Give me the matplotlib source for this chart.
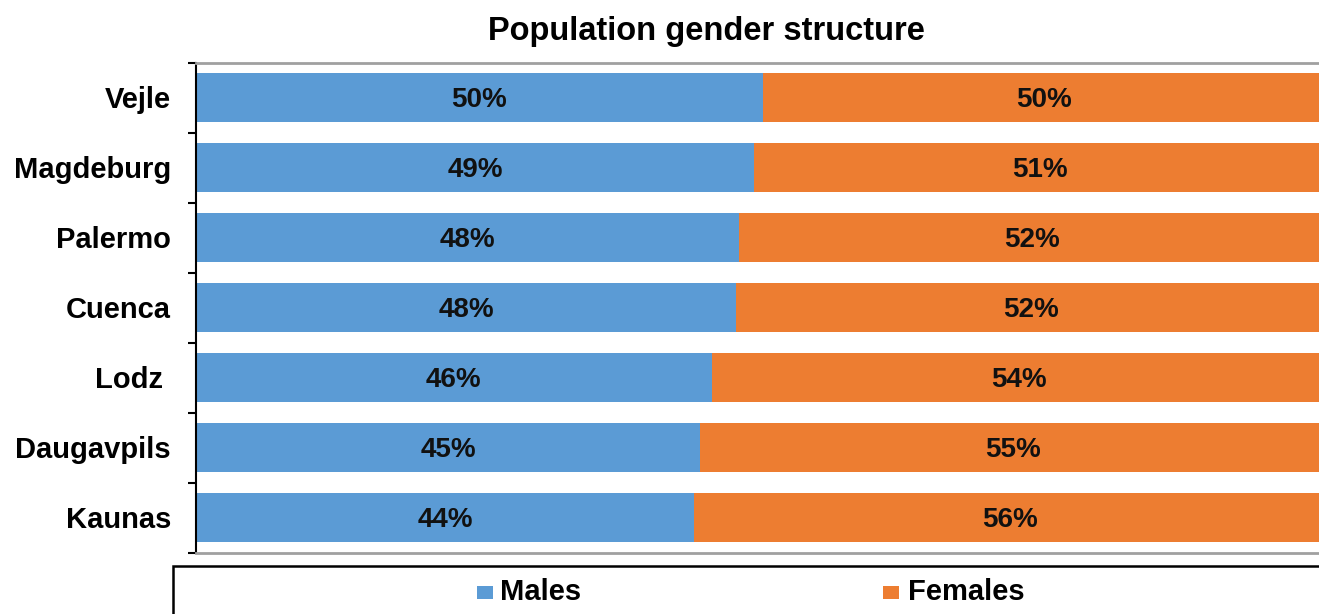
import matplotlib
matplotlib.use("Agg")
import matplotlib.pyplot as plt
from matplotlib.patches import Rectangle
import numpy as np

cities = ["Vejle", "Magdeburg", "Palermo", "Cuenca", "Lodz ", "Daugavpils", "Kaunas"]
males = [50.16, 49.40, 48.01, 47.80, 45.62, 44.61, 44.05]
females = [49.84, 50.60, 51.99, 52.20, 54.38, 55.39, 55.95]
series_names = ["Males", "Females"]
colors = ["#5B9BD5", "#ED7D31"]

plt.rcParams['font.family'] = ['Liberation Sans', 'DejaVu Sans']
plt.rcParams['font.weight'] = 'bold'

W, H = 1319, 614
fig = plt.figure(figsize=(W / 100, H / 100), dpi=100)
ax_left, ax_right = 196, 1326
ax_top, ax_bot = 62.5, 552.5
ax = fig.add_axes([ax_left / W, 1 - ax_bot / H, (ax_right - ax_left) / W, (ax_bot - ax_top) / H])

y = np.arange(len(cities))
m = np.array(males)
f = np.array(females)
ax.barh(y, m, height=0.714, color=colors[0], label=series_names[0])
ax.barh(y, f, left=m, height=0.714, color=colors[1], label=series_names[1])

base_off = 0.14
for i in range(len(cities)):
    ax.text(m[i] / 2, y[i] + base_off, f"{round(m[i]):.0f}%", ha='center', va='baseline',
            fontsize=20, fontweight='bold', color='#111111')
    ax.text(m[i] + f[i] / 2, y[i] + base_off, f"{round(f[i]):.0f}%", ha='center', va='baseline',
            fontsize=20, fontweight='bold', color='#111111')

ax.set_xlim(0, 100)
ax.set_ylim(len(cities) - 0.5, -0.5)
ax.set_xticks([])
ax.set_yticks(y)
ax.set_yticklabels(cities, fontsize=21, fontweight='bold')
ax.set_yticks(np.arange(-0.5, len(cities), 1), minor=True)
ax.tick_params(axis='y', which='major', length=0, pad=18)
ax.tick_params(axis='y', which='minor', length=6, width=1.5, direction='out', color='black')

for s in ['top', 'bottom']:
    ax.spines[s].set_color('#a0a0a0')
    ax.spines[s].set_linewidth(2)
ax.spines['right'].set_visible(False)
ax.spines['left'].set_color('black')
ax.spines['left'].set_linewidth(1.5)

fig.text(706 / W, 1 - 40 / H, "Population gender structure", ha='center', va='baseline',
         fontsize=23.5, fontweight='bold')

# legend box
fig.patches.append(Rectangle((173 / W, -0.1), 1.2, (614 - 566) / H + 0.1,
                             transform=fig.transFigure, fill=False, edgecolor='black',
                             linewidth=1.8))
leg_sq_x = [477, 883]
leg_tx_x = [500, 908]
for i in range(2):
    fig.patches.append(Rectangle((leg_sq_x[i] / W, 1 - 599 / H), 16 / W, 13 / H,
                                 transform=fig.transFigure, facecolor=colors[i],
                                 edgecolor='none'))
    fig.text(leg_tx_x[i] / W, 1 - 600 / H, series_names[i], ha='left', va='baseline',
             fontsize=21, fontweight='bold')

fig.savefig("out.png", dpi=100)
